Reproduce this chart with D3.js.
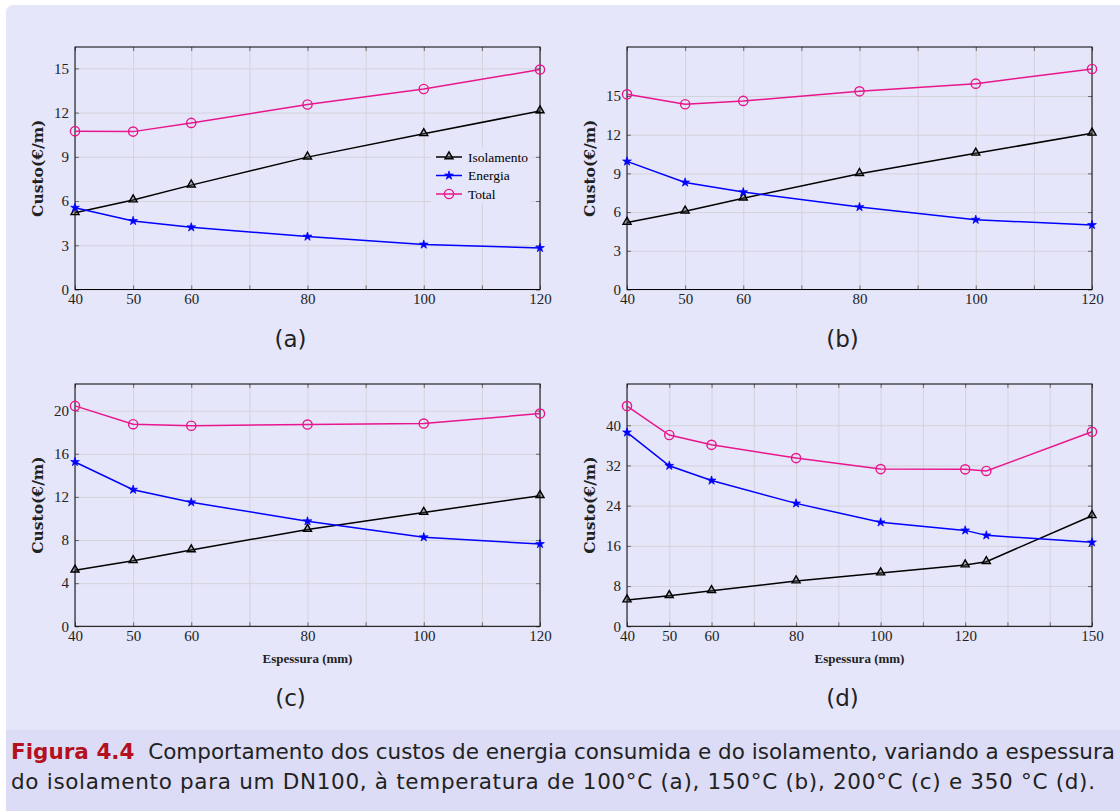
<!DOCTYPE html><html>
<head>
    <meta charset="utf-8">
    <script src="https://cdn.jsdelivr.net/npm/d3@7/dist/d3.min.js"></script>
    <style>
        body { margin: 0; background: #ffffff; }
        .grid line { stroke: #d3d3dc; stroke-width: 1; }
        .grid path { display: none; }
        .ticks line { stroke: #6a6a6a; stroke-width: 1; }
        .ticks path { display: none; }
        .labels path, .labels line { display: none; }
        .labels text { font-family: "Liberation Serif", serif; font-size: 15px; fill: #222; }
    </style>
</head>
<body>
<script>
    // espessura (mm)
    var espessura = [40, 50, 60, 80, 100, 120];
    var espessuraD = [40, 50, 60, 80, 100, 120, 125, 150];

    // (a) 100 C
    var isolamentoA = [5.2, 6.07, 7.08, 8.98, 10.56, 12.11];
    var energiaA = [5.55, 4.65, 4.22, 3.59, 3.05, 2.82];
    var totalA = [10.74, 10.71, 11.3, 12.55, 13.6, 14.92];

    // (b) 150 C
    var isolamentoB = [5.2, 6.07, 7.08, 8.98, 10.56, 12.11];
    var energiaB = [9.93, 8.3, 7.55, 6.39, 5.41, 5.0];
    var totalB = [15.13, 14.36, 14.62, 15.36, 15.96, 17.1];

    // (c) 200 C
    var isolamentoC = [5.2, 6.07, 7.08, 8.98, 10.56, 12.11];
    var energiaC = [15.24, 12.67, 11.5, 9.74, 8.26, 7.63];
    var totalC = [20.44, 18.74, 18.6, 18.71, 18.8, 19.73];

    // (d) 350 C
    var isolamentoD = [5.23, 6.08, 7.08, 9.0, 10.6, 12.19, 12.85, 21.99];
    var energiaD = [38.57, 31.93, 29.0, 24.45, 20.68, 19.08, 18.09, 16.7];
    var totalD = [43.8, 38.05, 36.1, 33.46, 31.27, 31.22, 30.9, 38.69];

    var xLabelsABC = [40, 50, 60, 80, 100, 120];
    var xGridABC = [40, 50, 60, 70, 80, 90, 100, 110, 120];
    var xLabelsD = [40, 50, 60, 80, 100, 120, 150];
    var xGridD = [40, 50, 60, 70, 80, 90, 100, 110, 120, 130, 140, 150];
    var yTicksAB = [0, 3, 6, 9, 12, 15];
    var yTicksC = [0, 4, 8, 12, 16, 20];
    var yTicksD = [0, 8, 16, 24, 32, 40];

    var seriesNames = ['Isolamento', 'Energia', 'Total'];

    var width = 1120, height = 811;
    var bg = '#e6e6fa';
    var colors = ['#000000', '#0000ff', '#e8168c'];

    var svg = d3.select('body').append('svg')
        .attr('width', width)
        .attr('height', height);

    svg.append('rect')
        .attr('x', 6).attr('y', 5)
        .attr('width', width + 10).attr('height', height)
        .attr('rx', 7)
        .attr('fill', bg);
    svg.append('rect')
        .attr('x', 6).attr('y', 730)
        .attr('width', width).attr('height', height - 730)
        .attr('fill', '#dcdcf6');

    var panels = [
        {tag: '(a)', x: espessura, s: [isolamentoA, energiaA, totalA], xDomain: [40, 120], yMax: 16.45,
         yTicks: yTicksAB, xLabels: xLabelsABC, xGrid: xGridABC, left: 75, right: 540, top: 47, bottom: 289.5, legend: true},
        {tag: '(b)', x: espessura, s: [isolamentoB, energiaB, totalB], xDomain: [40, 120], yMax: 18.8,
         yTicks: yTicksAB, xLabels: xLabelsABC, xGrid: xGridABC, left: 627, right: 1092, top: 47, bottom: 289.5},
        {tag: '(c)', x: espessura, s: [isolamentoC, energiaC, totalC], xDomain: [40, 120], yMax: 22.47,
         yTicks: yTicksC, xLabels: xLabelsABC, xGrid: xGridABC, left: 75, right: 540, top: 384, bottom: 626.3, xTitle: true},
        {tag: '(d)', x: espessuraD, s: [isolamentoD, energiaD, totalD], xDomain: [40, 150], yMax: 48.2,
         yTicks: yTicksD, xLabels: xLabelsD, xGrid: xGridD, left: 627, right: 1092, top: 384, bottom: 626.3, xTitle: true}
    ];

    function marker(g, k, cx, cy) {
        if (k === 0) {
            g.append('path')
                .attr('d', d3.symbol().type(d3.symbolTriangle).size(28)())
                .attr('transform', 'translate(' + cx + ',' + (cy - 0.5) + ')')
                .attr('fill', '#555').attr('fill-opacity', 0.35)
                .attr('stroke', '#000').attr('stroke-width', 1.4);
        } else if (k === 1) {
            g.append('path')
                .attr('d', d3.symbol().type(d3.symbolStar).size(24)())
                .attr('transform', 'translate(' + cx + ',' + cy + ')')
                .attr('fill', colors[1]).attr('stroke', colors[1]).attr('stroke-width', 0.7);
        } else {
            g.append('circle')
                .attr('cx', cx).attr('cy', cy).attr('r', 4.6)
                .attr('fill', 'none').attr('stroke', colors[2]).attr('stroke-width', 1.4);
        }
    }

    panels.forEach(function (p) {
        var g = svg.append('g');
        var x = d3.scaleLinear().domain(p.xDomain).range([p.left, p.right]);
        var y = d3.scaleLinear().domain([0, p.yMax]).range([p.bottom, p.top]);
        var w = p.right - p.left, h = p.bottom - p.top;

        // grid
        g.append('g').attr('class', 'grid')
            .attr('transform', 'translate(0,' + p.bottom + ')')
            .call(d3.axisBottom(x).tickValues(p.xGrid).tickSize(-h).tickFormat(''));
        g.append('g').attr('class', 'grid')
            .attr('transform', 'translate(' + p.left + ',0)')
            .call(d3.axisLeft(y).tickValues(p.yTicks).tickSize(-w).tickFormat(''));

        // inner ticks on all sides
        g.append('g').attr('class', 'ticks')
            .attr('transform', 'translate(0,' + p.bottom + ')')
            .call(d3.axisBottom(x).tickValues(p.xGrid).tickSize(-4).tickFormat(''));
        g.append('g').attr('class', 'ticks')
            .attr('transform', 'translate(0,' + p.top + ')')
            .call(d3.axisTop(x).tickValues(p.xGrid).tickSize(-4).tickFormat(''));
        g.append('g').attr('class', 'ticks')
            .attr('transform', 'translate(' + p.left + ',0)')
            .call(d3.axisLeft(y).tickValues(p.yTicks).tickSize(-4).tickFormat(''));
        g.append('g').attr('class', 'ticks')
            .attr('transform', 'translate(' + p.right + ',0)')
            .call(d3.axisRight(y).tickValues(p.yTicks).tickSize(-4).tickFormat(''));

        // tick labels
        g.append('g').attr('class', 'labels')
            .attr('transform', 'translate(0,' + p.bottom + ')')
            .call(d3.axisBottom(x).tickValues(p.xLabels).tickSize(0).tickPadding(4));
        g.append('g').attr('class', 'labels')
            .attr('transform', 'translate(' + p.left + ',0)')
            .call(d3.axisLeft(y).tickValues(p.yTicks).tickSize(0).tickPadding(6));

        // frame
        g.append('rect')
            .attr('x', p.left).attr('y', p.top)
            .attr('width', w).attr('height', h)
            .attr('fill', 'none').attr('stroke', '#000').attr('stroke-width', 1);

        // axis titles
        g.append('text')
            .attr('transform', 'translate(' + (p.left - 32) + ',' + ((p.top + p.bottom) / 2) + ') rotate(-90)')
            .attr('text-anchor', 'middle')
            .style('font-family', '"DejaVu Serif", serif')
            .style('font-weight', 'bold')
            .style('font-size', '15.5px')
            .style('fill', '#222')
            .text('Custo(€/m)');
        if (p.xTitle) {
            g.append('text')
                .attr('x', (p.left + p.right) / 2).attr('y', p.bottom + 37)
                .attr('text-anchor', 'middle')
                .style('font-family', '"Liberation Serif", serif')
                .style('font-weight', 'bold')
                .style('font-size', '13px')
                .style('fill', '#222')
                .text('Espessura (mm)');
        }

        // series
        var line = d3.line().x(function (d) { return x(d[0]); }).y(function (d) { return y(d[1]); });
        p.s.forEach(function (vals, k) {
            var pts = p.x.map(function (v, i) { return [v, vals[i]]; });
            g.append('path').datum(pts)
                .attr('d', line)
                .attr('fill', 'none')
                .attr('stroke', colors[k])
                .attr('stroke-width', 1.5);
            pts.forEach(function (d) { marker(g, k, x(d[0]), y(d[1])); });
        });

        // legend
        if (p.legend) {
            var lg = g.append('g');
            lg.append('rect')
                .attr('x', 431).attr('y', 148).attr('width', 100).attr('height', 55)
                .attr('fill', bg);
            seriesNames.forEach(function (name, k) {
                var ly = 157 + k * 18.5;
                lg.append('line')
                    .attr('x1', 436).attr('x2', 462).attr('y1', ly).attr('y2', ly)
                    .attr('stroke', colors[k]).attr('stroke-width', 1.5);
                marker(lg, k, 449, ly);
                lg.append('text')
                    .attr('x', 468).attr('y', ly + 4.5)
                    .style('font-family', '"Liberation Serif", serif')
                    .style('font-size', '13.5px')
                    .text(name);
            });
        }

        // panel tag
        g.append('text')
            .attr('x', (p.left + p.right) / 2 - 17).attr('y', p.bottom + (p.xTitle ? 80 : 57))
            .attr('text-anchor', 'middle')
            .style('font-family', '"DejaVu Sans", sans-serif')
            .style('font-size', '23px')
            .style('fill', '#222')
            .text(p.tag);
    });

    // caption
    var cap = svg.append('text')
        .attr('x', 11).attr('y', 759)
        .attr('textLength', 1104).attr('lengthAdjust', 'spacing')
        .style('font-family', '"DejaVu Sans", sans-serif')
        .style('font-size', '21.5px')
        .style('fill', '#222');
    cap.append('tspan')
        .style('font-weight', 'bold').style('fill', '#b5101e')
        .text('Figura 4.4');
    cap.append('tspan')
        .text('\u00a0 Comportamento dos custos de energia consumida e do isolamento, variando a espessura');
    svg.append('text')
        .attr('x', 11).attr('y', 789)
        .attr('textLength', 1084).attr('lengthAdjust', 'spacing')
        .style('font-family', '"DejaVu Sans", sans-serif')
        .style('font-size', '21.5px')
        .style('fill', '#222')
        .text('do isolamento para um DN100, à temperatura de 100°C (a), 150°C (b), 200°C (c) e 350 °C (d).');
</script>
</body>
</html>
